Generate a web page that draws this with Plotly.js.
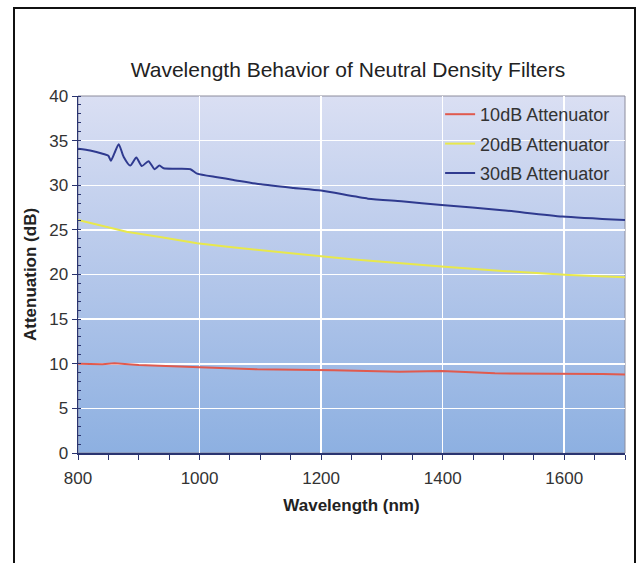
<!DOCTYPE html>
<html>
<head>
<meta charset="utf-8">
<script src="https://cdn.plot.ly/plotly-3.0.1.min.js"></script>
<style>
  html, body { margin: 0; padding: 0; background: #ffffff; }
  #frame { position: absolute; left: 13px; top: 7px; width: 619px; height: 600px;
           border: 2px solid #111; border-bottom: none; }
  #chart { position: absolute; left: 0; top: 0; width: 639px; height: 563px; }
</style>
</head>
<body>
<div id="frame"></div>
<div id="chart"></div>
<script>
// Data
const wl10 = [800, 840, 860, 880, 900, 1000, 1095, 1221, 1329, 1398, 1486, 1663, 1700];
const att10 = [10.0, 9.95, 10.05, 9.95, 9.85, 9.6, 9.37, 9.26, 9.1, 9.2, 8.93, 8.85, 8.8];

const wl20 = [800, 825, 880, 935, 996, 1046, 1101, 1167, 1250, 1398, 1498, 1608, 1700];
const att20 = [26.1, 25.7, 24.8, 24.2, 23.5, 23.1, 22.7, 22.26, 21.7, 20.9, 20.4, 19.95, 19.7];

const wl30 = [800, 820, 842, 850, 854, 860, 867, 875, 886, 896, 905, 916, 926, 934, 941, 960, 985, 996, 1029, 1056, 1101, 1155, 1200, 1277, 1332, 1398, 1498, 1597, 1700];
const att30 = [34.1, 33.9, 33.5, 33.3, 32.75, 33.6, 34.6, 33.2, 32.2, 33.1, 32.15, 32.7, 31.8, 32.2, 31.9, 31.85, 31.8, 31.3, 30.9, 30.6, 30.1, 29.7, 29.4, 28.5, 28.2, 27.8, 27.2, 26.5, 26.1];

const seriesNames = ['10dB Attenuator', '20dB Attenuator', '30dB Attenuator'];
const xTickVals = [800, 1000, 1200, 1400, 1600];
const yTickVals = [0, 5, 10, 15, 20, 25, 30, 35, 40];

const FONT = 'Liberation Sans, Arial, sans-serif';

const gradSvg = '<svg xmlns="http://www.w3.org/2000/svg" width="100" height="100" viewBox="0 0 100 100" preserveAspectRatio="none">' +
  '<defs><linearGradient id="g" x1="0" y1="0" x2="0" y2="1">' +
  '<stop offset="0" stop-color="#dadff3"/><stop offset="0.5" stop-color="#b4c7ea"/><stop offset="1" stop-color="#8db0e1"/>' +
  '</linearGradient></defs><rect width="100" height="100" fill="url(#g)"/></svg>';
const gradUri = 'data:image/svg+xml;charset=utf-8,' + encodeURIComponent(gradSvg);

const traces = [
  { x: wl10, y: att10, name: seriesNames[0], legendgroup: 'a', mode: 'lines',
    line: { color: '#e05a4e', width: 2 } },
  { x: wl20, y: att20, name: seriesNames[1], legendgroup: 'b', mode: 'lines',
    line: { color: '#e8e84c', width: 2 } },
  { x: wl30, y: att30, name: seriesNames[2], legendgroup: 'c', mode: 'lines',
    line: { color: '#2f3a8f', width: 2, shape: 'spline', smoothing: 0.6 } }
];

const layout = {
  width: 639, height: 563,
  margin: { l: 78, r: 14, t: 96, b: 110 },
  paper_bgcolor: 'rgba(0,0,0,0)',
  plot_bgcolor: 'rgba(0,0,0,0)',
  font: { family: FONT, color: '#333', size: 17 },
  title: {
    text: 'Wavelength Behavior of Neutral Density Filters',
    font: { family: FONT, size: 21, color: '#222' },
    xref: 'container', x: 348 / 639, xanchor: 'center',
    yref: 'container', y: 1 - 70 / 563, yanchor: 'middle'
  },
  xaxis: {
    range: [800, 1700],
    tickvals: xTickVals,
    showgrid: true, gridcolor: '#ffffff', gridwidth: 1.5,
    zeroline: false,
    showline: true, linecolor: '#2a3470', linewidth: 1.5,
    ticks: 'outside', ticklen: 5, tickcolor: '#2a3470',
    ticklabelstandoff: 4,
    minor: { dtick: 50, ticks: 'outside', ticklen: 5, tickcolor: '#2a3470', showgrid: false },
    tickfont: { family: FONT, size: 17, color: '#333' },
    title: { text: '<b>Wavelength (nm)</b>', font: { family: FONT, size: 17, color: '#222' }, standoff: 12 }
  },
  yaxis: {
    range: [0, 40],
    tickvals: yTickVals,
    showgrid: true, gridcolor: '#ffffff', gridwidth: 1.5,
    zeroline: false,
    showline: true, linecolor: '#2a3470', linewidth: 1.5,
    ticks: 'outside', ticklen: 5, tickcolor: '#2a3470',
    minor: { dtick: 1, ticks: 'inside', ticklen: 3, tickcolor: '#2a3470', showgrid: false },
    tickfont: { family: FONT, size: 17, color: '#333' },
    title: { text: '<b>Attenuation (dB)</b>', font: { family: FONT, size: 17, color: '#222' }, standoff: 8 }
  },
  legend: {
    x: 0.662, xanchor: 'left', y: 1.0, yanchor: 'top',
    bgcolor: 'rgba(0,0,0,0)', borderwidth: 0,
    font: { family: FONT, size: 18, color: '#333' },
    traceorder: 'grouped', tracegroupgap: 3
  },
  images: [{
    source: gradUri, xref: 'paper', yref: 'paper',
    x: 0, y: 1, sizex: 1, sizey: 1, xanchor: 'left', yanchor: 'top',
    sizing: 'stretch', layer: 'below'
  }],
  shapes: [{
    type: 'rect', xref: 'paper', yref: 'paper', x0: 0, x1: 1, y0: 0, y1: 1,
    line: { color: '#8c8c9c', width: 1 }, layer: 'below'
  }],
  showlegend: true
};

Plotly.newPlot('chart', traces, layout, { displayModeBar: false, staticPlot: true });
</script>
</body>
</html>
